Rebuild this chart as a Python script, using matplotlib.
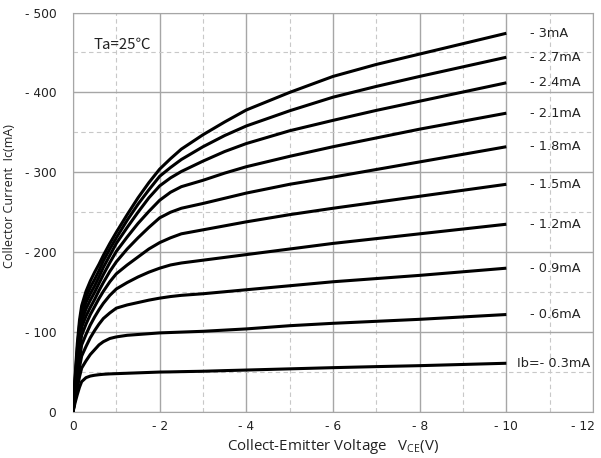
import numpy as np
import matplotlib
matplotlib.use('Agg')
import matplotlib.pyplot as plt
from matplotlib.ticker import MultipleLocator, FuncFormatter

plt.rcParams['font.family'] = ['Open Sans', 'DejaVu Sans']
plt.rcParams['mathtext.fontset'] = 'custom'
plt.rcParams['mathtext.rm'] = 'Open Sans'

# collector-emitter voltage (V), negative for PNP
vce = [0, -0.05, -0.1, -0.15, -0.2, -0.3, -0.4, -0.5, -0.6, -0.7, -0.85, -1.0,
       -1.25, -1.5, -1.75, -2.0, -2.25, -2.5, -3, -3.5, -4, -5, -6, -7, -8, -9, -10]

# base current labels
ib_labels = ['Ib=- 0.3mA', '- 0.6mA', '- 0.9mA', '- 1.2mA', '- 1.5mA',
             '- 1.8mA', '- 2.1mA', '- 2.4mA', '- 2.7mA', '- 3mA']

# collector current (mA) for each base current (magnitudes)
ic_03 = [0, 12, 22, 31, 38, 43, 45, 46, 46.7, 47.2, 47.7, 48,
         48.5, 49, 49.5, 50, 50.2, 50.5, 51, 51.8, 52.5, 54, 55.5, 56.8, 58, 59.5, 61]
ic_06 = [0, 16, 30, 44, 55, 64, 72, 78, 84, 88, 92, 94,
         96, 97, 98, 99, 99.5, 100, 101, 102.5, 104, 108, 111, 113.5, 116, 119, 122]
ic_09 = [0, 20, 38, 56, 70, 82, 93, 102, 110, 117, 124, 130,
         134, 137, 140, 142.5, 144.5, 146, 148, 150.5, 153, 158, 163, 167, 171, 175.5, 180]
ic_12 = [0, 24, 46, 67, 84, 97, 109, 119, 128, 136, 146, 154,
         162, 169, 175, 180, 184, 186.5, 190, 193.5, 197, 204, 211, 217, 223, 229, 235]
ic_15 = [0, 28, 54, 78, 96, 110, 122, 132, 142, 151, 163, 173,
         184, 194, 204, 212, 218, 223, 228, 233, 238, 247, 255, 262.5, 270, 277.5, 285]
ic_18 = [0, 32, 61, 87, 106, 120, 131, 141, 152, 162, 176, 188,
         204, 218, 231, 243, 250, 255, 261, 267.5, 274, 285, 294, 303.5, 313, 322.5, 332]
ic_21 = [0, 36, 68, 95, 114, 129, 140, 150, 161, 172, 187, 201,
         219, 236, 251, 265, 275, 282, 290, 299, 307, 320, 332, 343, 354, 364, 374]
ic_24 = [0, 39, 74, 102, 121, 137, 148, 158, 169, 181, 196, 211,
         231, 250, 268, 283, 293, 301, 314, 326, 336, 352, 365, 377.5, 389, 400.5, 412]
ic_27 = [0, 42, 80, 109, 127, 144, 156, 166, 177, 189, 204, 218,
         240, 260, 278, 295, 306, 316, 332, 346, 358, 377, 394, 407.5, 420, 432, 444]
ic_30 = [0, 45, 86, 115, 133, 151, 164, 175, 185, 196, 211, 225,
         247, 268, 287, 304, 317, 329, 347, 363, 378, 400, 420, 435, 448, 461, 474]

curves = [ic_03, ic_06, ic_09, ic_12, ic_15, ic_18, ic_21, ic_24, ic_27, ic_30]

fig = plt.figure(figsize=(6.01, 4.58), dpi=100)
ax = fig.add_axes([73/601, 1-412/458, 520/601, 399.5/458])

for ic in curves:
    ax.plot(vce, [-v for v in ic], color='black', lw=2.2,
            solid_capstyle='butt', solid_joinstyle='round', zorder=3)

# labels at the end of each curve
for i, (lab, ic) in enumerate(zip(ib_labels, curves)):
    x = -10.25 if i == 0 else -10.55
    ax.text(x, -ic[-1], lab, ha='left', va='center', fontsize=9.3,
            color='#222222', family='DejaVu Sans')

ax.text(-0.48, -460, 'Ta=25℃', ha='left', va='center', fontsize=10.8, color='#222222',
        family=['Noto Sans CJK JP', 'DejaVu Sans'])

ax.set_xlim(0, -12)
ax.set_ylim(0, -500)
ax.xaxis.set_major_locator(MultipleLocator(2))
ax.xaxis.set_minor_locator(MultipleLocator(1))
ax.yaxis.set_major_locator(MultipleLocator(100))
ax.yaxis.set_minor_locator(MultipleLocator(50))

fmt = FuncFormatter(lambda v, _: '0' if v == 0 else '- %g' % abs(v))
xfmt = FuncFormatter(lambda v, _: '' if abs(v) > 11 else ('0' if v == 0 else '- %g' % abs(v)))
ax.xaxis.set_major_formatter(xfmt)
ax.yaxis.set_major_formatter(fmt)

ax.grid(which='major', color='#a6a6a6', lw=1.0, ls='-', zorder=0)
ax.grid(which='minor', color='#c8c8c8', lw=0.8, ls=(0, (4, 3)), zorder=0)
ax.tick_params(which='both', length=0)
ax.tick_params(axis='y', pad=12, labelsize=8.8)
ax.tick_params(axis='x', pad=6, labelsize=8.8)
for lab in ax.get_xticklabels() + ax.get_yticklabels():
    lab.set_family('DejaVu Sans')
    lab.set_color('#222222')
for s in ax.spines.values():
    s.set_color('#a6a6a6')

# last x tick label, nudged left so it stays inside the figure
ax.annotate('- 12', xy=(-12, 0), xytext=(-7, -6), textcoords='offset points',
            ha='center', va='top', fontsize=8.8, color='#222222', family='DejaVu Sans',
            annotation_clip=False)

ax.set_xlabel('Collect-Emitter Voltage   V$_{\\mathrm{CE}}$(V)', fontsize=10.8, labelpad=3, color='#222222')
ax.set_ylabel('Collector Current  Ic(mA)', fontsize=9, color='#222222')
ax.yaxis.set_label_coords((16 - 73) / 520, 0.54)

fig.savefig('out.png', dpi=100)
